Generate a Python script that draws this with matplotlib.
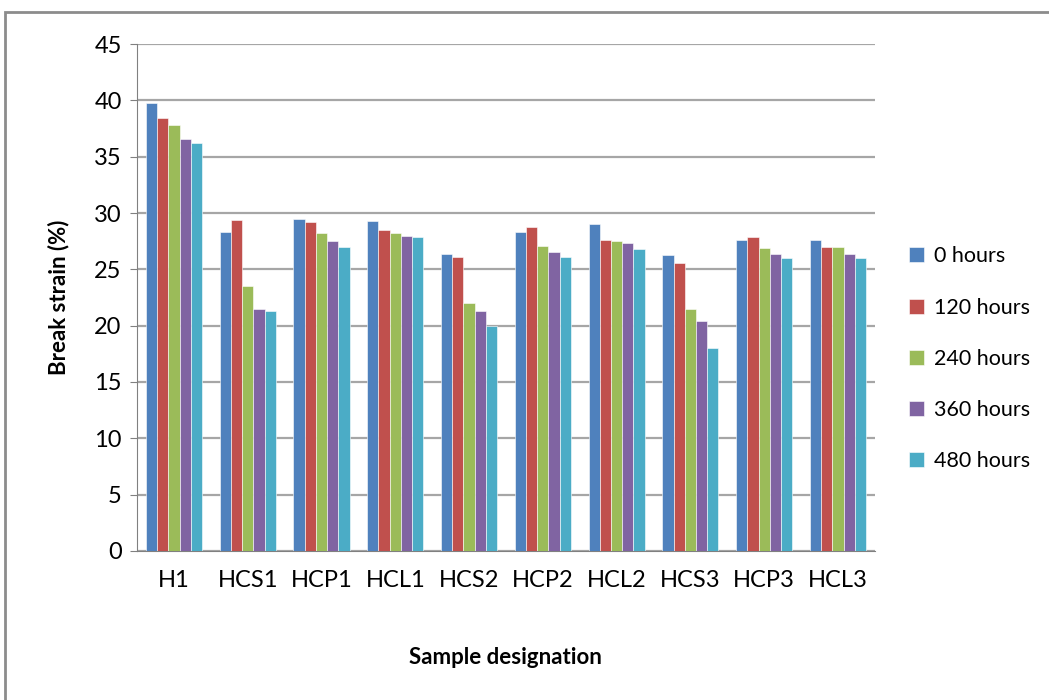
import numpy as np
import matplotlib
matplotlib.use("Agg")
import matplotlib.pyplot as plt
from matplotlib.patches import Rectangle

plt.rcParams['font.family'] = ['Lato', 'DejaVu Sans']

# samples and break strain (%) after each exposure time
samples = ["H1", "HCS1", "HCP1", "HCL1", "HCS2", "HCP2", "HCL2", "HCS3", "HCP3", "HCL3"]
series_names = ["0 hours", "120 hours", "240 hours", "360 hours", "480 hours"]
h0   = [39.8, 28.3, 29.5, 29.3, 26.4, 28.3, 29.0, 26.3, 27.6, 27.6]
h120 = [38.4, 29.4, 29.2, 28.5, 26.1, 28.8, 27.6, 25.6, 27.9, 27.0]
h240 = [37.8, 23.5, 28.2, 28.2, 22.0, 27.1, 27.5, 21.5, 26.9, 27.0]
h360 = [36.6, 21.5, 27.5, 28.0, 21.3, 26.5, 27.3, 20.4, 26.4, 26.4]
h480 = [36.2, 21.3, 27.0, 27.9, 20.0, 26.1, 26.8, 18.0, 26.0, 26.0]
colors = ["#4F81BD", "#C0504D", "#9BBB59", "#8064A2", "#4BACC6"]

fig = plt.figure(figsize=(10.49, 7.0), dpi=100)
ax = fig.add_axes([0.1306, 0.2129, 0.7034, 0.7242])

x = np.arange(len(samples))
w = 0.152
for i, (vals, name) in enumerate(zip([h0, h120, h240, h360, h480], series_names)):
    ax.bar(x + (i - 2) * w, vals, w, color=colors[i], label=name, zorder=3,
           edgecolor='#ffffff', linewidth=0.4)

ax.set_xlim(-0.5, len(samples) - 0.5)
ax.set_ylim(0, 45)
ax.set_yticks(range(0, 46, 5))
ax.set_xticks(x)
ax.set_xticklabels(samples)
ax.tick_params(axis='y', labelsize=17, length=5, color='#808080', pad=6)
ax.tick_params(axis='x', labelsize=17, length=0, pad=14)
ax.yaxis.grid(True, color='#a6a6a6', linewidth=1.6, zorder=0)
for s in ['top', 'right']:
    ax.spines[s].set_visible(False)
ax.spines['left'].set_color('#808080')
ax.spines['bottom'].set_color('#808080')

ax.set_ylabel("Break strain (%)", fontsize=16, fontweight='bold', labelpad=18)
ax.set_xlabel("Sample designation", fontsize=16, fontweight='bold', labelpad=40)

leg = ax.legend(loc='center left', bbox_to_anchor=(1.02, 0.379), frameon=False,
                fontsize=15.5, handlelength=0.7, handleheight=0.7, handletextpad=0.45,
                labelspacing=1.45)

# outer chart frame
fig.patches.append(Rectangle((5 / 1049, -0.1), 1.2, 1.1 - 12 / 700, transform=fig.transFigure,
                             fill=False, edgecolor='#8c8c8c', linewidth=2))

fig.savefig("out.png", dpi=100)
